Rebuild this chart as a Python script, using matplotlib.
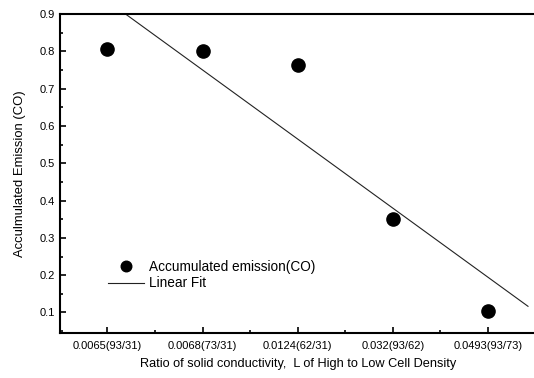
import numpy as np
import matplotlib.pyplot as plt
from matplotlib.ticker import MultipleLocator

plt.rcParams['font.family'] = ['Liberation Sans', 'DejaVu Sans']

# data
categories = ['0.0065(93/31)', '0.0068(73/31)', '0.0124(62/31)', '0.032(93/62)', '0.0493(93/73)']
emission = [0.806, 0.800, 0.763, 0.350, 0.105]

x = np.arange(len(categories))
slope, intercept = np.polyfit(x, emission, 1)
xfit = np.array([-0.5, 4.42])

fig = plt.figure(figsize=(5.34, 3.78), dpi=100)
ax = fig.add_axes([0.112, 0.119, 0.891, 0.844])

ax.plot(x, emission, 'o', color='black', markersize=9.5, label='Accumulated emission(CO)')
ax.plot(xfit, slope * xfit + intercept, '-', color='#222222', lw=0.8, label='Linear Fit')

ax.set_xlim(-0.5, 4.5)
ax.set_ylim(0.045, 0.9)
ax.set_xticks(x)
ax.set_xticklabels(categories)
ax.xaxis.set_minor_locator(MultipleLocator(0.5))
ax.yaxis.set_major_locator(MultipleLocator(0.1))
ax.yaxis.set_minor_locator(MultipleLocator(0.05))
ax.yaxis.set_major_formatter(plt.FormatStrFormatter('%.1f'))

ax.tick_params(which='both', direction='in', labelsize=8, width=1.2)
ax.tick_params(which='major', length=4)
ax.tick_params(which='minor', length=2)
ax.tick_params(axis='x', pad=6)
ax.spines['right'].set_visible(False)
for s in ['left', 'bottom', 'top']:
    ax.spines[s].set_linewidth(1.5)

ax.set_xlabel('Ratio of solid conductivity,  L of High to Low Cell Density', fontsize=9.2, labelpad=5)
ax.set_ylabel('Acculmulated Emission (CO)', fontsize=9.4, labelpad=10)

ax.legend(loc='lower left', bbox_to_anchor=(0.075, 0.095), frameon=False, fontsize=9.8,
          handlelength=2.7, handletextpad=0.3, labelspacing=0.2, markerscale=0.8)

fig.savefig('out.png', dpi=100)
